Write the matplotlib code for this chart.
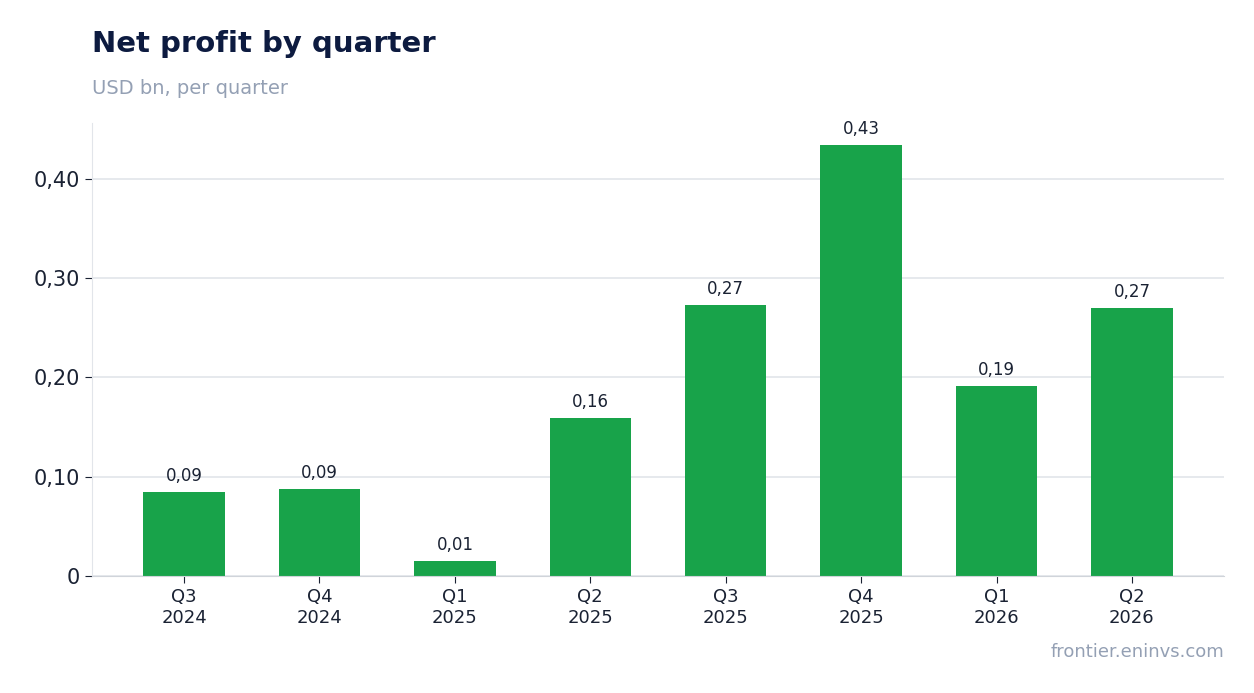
import matplotlib
matplotlib.use("Agg")
import matplotlib.pyplot as plt
from matplotlib.ticker import FuncFormatter

quarters = ["Q3\n2024", "Q4\n2024", "Q1\n2025", "Q2\n2025", "Q3\n2025", "Q4\n2025", "Q1\n2026", "Q2\n2026"]
profit = [0.085, 0.088, 0.015, 0.159, 0.273, 0.434, 0.191, 0.270]

fig = plt.figure(figsize=(12.54, 6.93), dpi=100)
ax = fig.add_axes([92 / 1254, 1 - 576 / 693, (1224 - 92) / 1254, (576 - 123) / 693])

x = range(len(quarters))
ax.bar(x, profit, width=0.6, color="#18a34a", zorder=2)
for i, v in zip(x, profit):
    ax.annotate(f"{v:.2f}".replace(".", ","), (i, v), xytext=(0, 5), textcoords="offset points",
                ha="center", va="bottom", fontsize=12, color="#1a2233")

ax.set_xlim(-0.68, 7.68)
ax.set_ylim(0, 0.456)
ax.set_xticks(list(x))
ax.set_xticklabels(quarters, fontsize=13, color="#1a2233")
ax.set_yticks([0, 0.1, 0.2, 0.3, 0.4])
ax.yaxis.set_major_formatter(FuncFormatter(lambda v, p: "0" if v == 0 else f"{v:.2f}".replace(".", ",")))
ax.tick_params(axis="y", labelsize=15, labelcolor="#1a2233", color="#1a2233", length=5)
ax.tick_params(axis="x", color="#1a2233", length=5)
ax.grid(axis="y", color="#e2e5ea", linewidth=1.2, zorder=0)
for s in ["top", "right"]:
    ax.spines[s].set_visible(False)
ax.spines["left"].set_color("#e2e5ea")
ax.spines["bottom"].set_color("#d0d4da")

fig.text(92 / 1254, 1 - 44 / 693, "Net profit by quarter", fontsize=21, fontweight="bold",
         color="#0d1b40", va="center")
fig.text(92 / 1254, 1 - 88 / 693, "USD bn, per quarter", fontsize=14, color="#94a0b4", va="center")
fig.text(1224 / 1254, 1 - 652 / 693, "frontier.eninvs.com", fontsize=13, color="#94a0b4",
         ha="right", va="center")

fig.savefig("out.png", dpi=100)
